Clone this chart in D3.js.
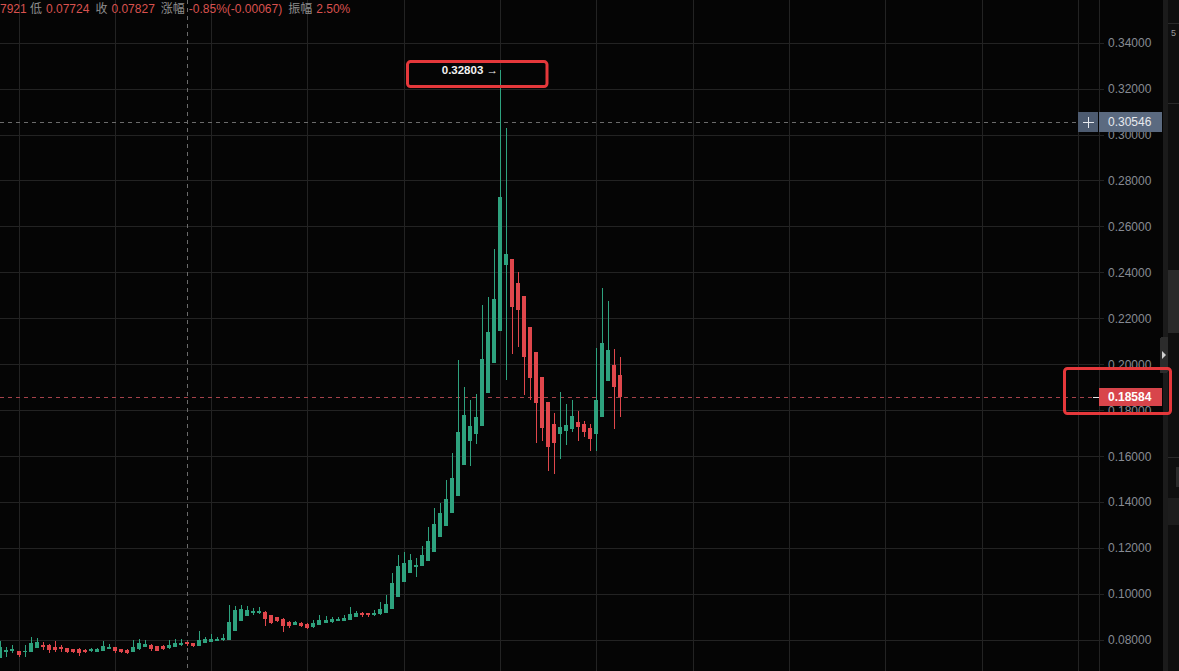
<!DOCTYPE html>
<html>
<head>
<meta charset="utf-8">
<script src="https://cdn.jsdelivr.net/npm/d3@7"></script>
<style>
  html, body { margin: 0; padding: 0; background: #050505; overflow: hidden; }
  svg { display: block; }
</style>
</head>
<body>
<svg id="main"></svg>
<script>
//--------data----------
// one candle per index
let opens = [
  0.0723, 0.0749, 0.0751, 0.0752, 0.0748, 0.0748, 0.0767, 0.0778, 0.0778, 0.0768,
  0.0768, 0.0764, 0.0760, 0.0760, 0.0757, 0.0752, 0.0749, 0.0753, 0.0761, 0.0768,
  0.0760, 0.0757, 0.0748, 0.0760, 0.0771, 0.0778, 0.0773, 0.0775, 0.0765, 0.0771,
  0.0780, 0.07894, 0.0786, 0.0774, 0.0788, 0.0791, 0.0797, 0.0799, 0.0800, 0.0841,
  0.0884, 0.0906, 0.0919, 0.0919, 0.0923, 0.0909, 0.0899, 0.0891, 0.0878, 0.0867,
  0.0875, 0.0870, 0.0855, 0.0867, 0.0875, 0.0878, 0.0884, 0.0884, 0.0887, 0.0901,
  0.0916, 0.0916, 0.0908, 0.0912, 0.0919, 0.0935, 0.0989, 0.1054, 0.1093, 0.1119,
  0.1123, 0.1145, 0.1184, 0.1247, 0.1298, 0.1354, 0.1428, 0.1562, 0.1668, 0.1697,
  0.1733, 0.1876, 0.2007, 0.2146, 0.2434, 0.2458, 0.2355, 0.2297, 0.2162, 0.2055,
  0.1946, 0.1836, 0.1740, 0.1698, 0.1711, 0.1718, 0.1749, 0.1740, 0.1723, 0.1697,
  0.1772, 0.1929, 0.1997, 0.1954
];
let highs = [
  0.0796, 0.0768, 0.0777, 0.0753, 0.0777, 0.0812, 0.0809, 0.0791, 0.0781, 0.0796,
  0.0777, 0.0765, 0.0762, 0.0764, 0.0762, 0.0764, 0.0765, 0.0796, 0.0784, 0.0768,
  0.0762, 0.0760, 0.0800, 0.0803, 0.0800, 0.0781, 0.0775, 0.0778, 0.0800, 0.0803,
  0.0806, 0.07921, 0.0788, 0.0838, 0.0814, 0.0826, 0.0814, 0.0826, 0.0952, 0.0948,
  0.0951, 0.0948, 0.0938, 0.0942, 0.0925, 0.0910, 0.0901, 0.0895, 0.0883, 0.0884,
  0.0878, 0.0873, 0.0887, 0.0909, 0.0905, 0.0901, 0.0899, 0.0908, 0.0942, 0.0925,
  0.0922, 0.0919, 0.0931, 0.0967, 0.0997, 0.1090, 0.1170, 0.1184, 0.1174, 0.1156,
  0.1209, 0.1293, 0.1373, 0.1395, 0.1496, 0.1615, 0.2019, 0.1903, 0.1845, 0.1871,
  0.2258, 0.2294, 0.2502, 0.32803, 0.3029, 0.2458, 0.2402, 0.2297, 0.2162, 0.2055,
  0.1946, 0.1836, 0.1789, 0.1881, 0.1827, 0.1846, 0.1795, 0.1755, 0.1740, 0.2072,
  0.2331, 0.2275, 0.2067, 0.2031
];
let lows = [
  0.0720, 0.0727, 0.0745, 0.0725, 0.0726, 0.0748, 0.0764, 0.0757, 0.0743, 0.0748,
  0.0749, 0.0745, 0.0743, 0.0732, 0.0742, 0.0748, 0.0747, 0.0752, 0.0760, 0.0742,
  0.0743, 0.0740, 0.0748, 0.0757, 0.0768, 0.0753, 0.0751, 0.0757, 0.0761, 0.0770,
  0.0773, 0.07724, 0.0768, 0.0774, 0.0786, 0.0791, 0.0796, 0.0797, 0.0800, 0.0841,
  0.0881, 0.0905, 0.0909, 0.0913, 0.0862, 0.0870, 0.0878, 0.0836, 0.0851, 0.0864,
  0.0855, 0.0848, 0.0854, 0.0865, 0.0873, 0.0873, 0.0881, 0.0883, 0.0887, 0.0899,
  0.0899, 0.0901, 0.0906, 0.0910, 0.0919, 0.0935, 0.0989, 0.1054, 0.1093, 0.1076,
  0.1123, 0.1145, 0.1184, 0.1247, 0.1298, 0.1354, 0.1428, 0.1562, 0.1557, 0.1653,
  0.1733, 0.1876, 0.2007, 0.2146, 0.1932, 0.2045, 0.2077, 0.1866, 0.1845, 0.1656,
  0.1668, 0.1536, 0.1521, 0.1587, 0.1648, 0.1705, 0.1668, 0.1682, 0.1623, 0.1623,
  0.1772, 0.1929, 0.1720, 0.1772
];
let closes = [
  0.0768, 0.0757, 0.0760, 0.0735, 0.0753, 0.0786, 0.0791, 0.0768, 0.0757, 0.0757,
  0.0760, 0.0748, 0.0748, 0.0742, 0.0747, 0.0760, 0.0760, 0.0774, 0.0768, 0.0751,
  0.0748, 0.0742, 0.0768, 0.0786, 0.0783, 0.0762, 0.0753, 0.0762, 0.0778, 0.0787,
  0.0788, 0.07827, 0.0774, 0.0800, 0.0806, 0.0804, 0.0806, 0.0809, 0.0878, 0.0931,
  0.0935, 0.0931, 0.0926, 0.0926, 0.0893, 0.0875, 0.0881, 0.0862, 0.0862, 0.0878,
  0.0861, 0.0851, 0.0875, 0.0887, 0.0887, 0.0893, 0.0893, 0.0896, 0.0913, 0.0919,
  0.0908, 0.0908, 0.0919, 0.0935, 0.0957, 0.1047, 0.1122, 0.1137, 0.1148, 0.1126,
  0.1170, 0.1231, 0.1305, 0.1354, 0.1414, 0.1505, 0.1707, 0.1779, 0.1731, 0.1771,
  0.2023, 0.2142, 0.2284, 0.2730, 0.2480, 0.2248, 0.2236, 0.2031, 0.1942, 0.1833,
  0.1724, 0.1641, 0.1659, 0.1727, 0.1737, 0.1776, 0.1727, 0.1705, 0.1675, 0.1845,
  0.2093, 0.2064, 0.1903, 0.18584
];
let yTicks = [0.08, 0.10, 0.12, 0.14, 0.16, 0.18, 0.20, 0.22, 0.24, 0.26, 0.28, 0.30, 0.32, 0.34];
let timeGrid = [3, 19, 35, 51, 67, 83, 99, 115, 131, 147, 163, 179];
let hoverIndex = 31;
let crossPrice = 0.30546;

// header (ohlc of hovered candle, left part cut off in the original)
let headerHigh = '7921';
let header = [
  ['低', '0.07724'],
  ['收', '0.07827'],
  ['涨幅', '-0.85%(-0.00067)'],
  ['振幅', '2.50%']
];

//--------code----------
const width = 1179, height = 671;
const plotRight = 1099;
const up = '#2ea27e', down = '#e0474c';
const font = "'Liberation Sans', Arial, 'Noto Sans CJK SC', sans-serif";

let candles = opens.map((o, i) => ({i: i, o: o, h: highs[i], l: lows[i], c: closes[i]}));

let svg = d3.select('#main')
  .attr('width', width)
  .attr('height', height)
  .style('background', '#050505');

let sx = d3.scaleLinear().domain([3, 179]).range([18.5, 1078]);
let sy = d3.scaleLinear().domain([0.08, 0.34]).range([640, 42.6]);

// grid
svg.append('g')
  .selectAll('line')
  .data(yTicks)
  .join('line')
  .attr('x1', 0).attr('x2', plotRight + 5)
  .attr('y1', d => Math.round(sy(d)) + 0.5)
  .attr('y2', d => Math.round(sy(d)) + 0.5)
  .attr('stroke', '#232323');
svg.append('g')
  .selectAll('line')
  .data(timeGrid)
  .join('line')
  .attr('x1', d => Math.round(sx(d)) + 0.5)
  .attr('x2', d => Math.round(sx(d)) + 0.5)
  .attr('y1', 0).attr('y2', height)
  .attr('stroke', '#232323');
svg.append('line')
  .attr('x1', plotRight + 0.5).attr('x2', plotRight + 0.5)
  .attr('y1', 0).attr('y2', height)
  .attr('stroke', '#232323');

// y axis
let ay = d3.axisRight(sy)
  .tickValues(yTicks)
  .tickFormat(d3.format('.5f'))
  .tickSize(0)
  .tickPadding(9);
let gy = svg.append('g')
  .attr('transform', `translate(${plotRight},0)`)
  .call(ay);
gy.select('.domain').remove();
gy.selectAll('text')
  .attr('fill', '#878b94')
  .style('font-family', font)
  .style('font-size', '12px');

// crosshair
let cx0 = Math.round(sx(hoverIndex)) + 0.5;
svg.append('line')
  .attr('x1', cx0).attr('x2', cx0)
  .attr('y1', 0).attr('y2', height)
  .attr('stroke', '#6b6b6b')
  .attr('stroke-dasharray', '4,4');
let cyc = Math.round(sy(crossPrice)) + 0.5;
svg.append('line')
  .attr('x1', 0).attr('x2', 1078)
  .attr('y1', cyc).attr('y2', cyc)
  .attr('stroke', '#6b6b6b')
  .attr('stroke-dasharray', '4,4');

// last price line
let last = closes[closes.length - 1];
let ly = Math.round(sy(last)) + 0.5;
svg.append('line')
  .attr('x1', 0).attr('x2', plotRight - 6)
  .attr('y1', ly).attr('y2', ly)
  .attr('stroke', '#a5424a')
  .attr('stroke-dasharray', '4,4');
svg.append('line')
  .attr('x1', plotRight - 6).attr('x2', plotRight)
  .attr('y1', ly).attr('y2', ly)
  .attr('stroke', '#e8e8e8');

// candles
let gc = svg.append('g').attr('shape-rendering', 'crispEdges');
gc.selectAll('.wick')
  .data(candles)
  .join('rect')
  .attr('class', 'wick')
  .attr('x', d => Math.round(sx(d.i)))
  .attr('width', 1)
  .attr('y', d => sy(d.h))
  .attr('height', d => Math.max(1, sy(d.l) - sy(d.h)))
  .attr('fill', d => d.c >= d.o ? up : down);
gc.selectAll('.body')
  .data(candles)
  .join('rect')
  .attr('class', 'body')
  .attr('x', d => Math.round(sx(d.i)) - 2)
  .attr('width', 4)
  .attr('y', d => sy(Math.max(d.o, d.c)))
  .attr('height', d => Math.max(1, Math.abs(sy(d.o) - sy(d.c))))
  .attr('fill', d => d.c >= d.o ? up : down);

// max marker
let maxC = candles.reduce((a, b) => b.h > a.h ? b : a);
let mx = Math.round(sx(maxC.i)), my = sy(maxC.h);
svg.append('text')
  .attr('x', mx - 2).attr('y', my)
  .attr('dy', '0.35em')
  .attr('text-anchor', 'end')
  .attr('fill', '#f2f2f2')
  .style('font-family', font)
  .style('font-size', '11.5px')
  .style('font-weight', 'bold')
  .text(d3.format('.5f')(maxC.h) + ' →');
svg.append('rect')
  .attr('x', mx - 92.5).attr('y', my - 8.5)
  .attr('width', 139.5).attr('height', 25)
  .attr('rx', 3)
  .attr('fill', 'none')
  .attr('stroke', '#e5383b')
  .attr('stroke-width', 3);

// crosshair price label
let cyr = Math.round(sy(crossPrice));
svg.append('rect')
  .attr('x', 1078).attr('y', cyr - 10)
  .attr('width', 20).attr('height', 20)
  .attr('fill', '#4d5b70');
svg.append('path')
  .attr('d', `M1083,${cyr + 0.5}H1094M1088.5,${cyr - 5}V${cyr + 6}`)
  .attr('stroke', '#e6e9ee')
  .attr('stroke-width', 1);
svg.append('rect')
  .attr('x', plotRight).attr('y', cyr - 10)
  .attr('width', 63).attr('height', 20)
  .attr('fill', '#5b6a80');
svg.append('text')
  .attr('x', plotRight + 9).attr('y', cyr)
  .attr('dy', '0.35em')
  .attr('fill', '#e6e9ee')
  .style('font-family', font)
  .style('font-size', '12px')
  .text(d3.format('.5f')(crossPrice));

// last price label
let lyr = Math.round(sy(last));
svg.append('rect')
  .attr('x', plotRight).attr('y', lyr - 9)
  .attr('width', 63).attr('height', 18)
  .attr('fill', '#d8454b');
svg.append('text')
  .attr('x', plotRight + 9).attr('y', lyr)
  .attr('dy', '0.35em')
  .attr('fill', '#ffffff')
  .style('font-family', font)
  .style('font-size', '12px')
  .style('font-weight', 'bold')
  .text(d3.format('.5f')(last));

// right side panel
let gp = svg.append('g').attr('shape-rendering', 'crispEdges');
gp.append('rect').attr('x', 1163).attr('y', 0).attr('width', 5).attr('height', height).attr('fill', '#1b1b1b');
gp.append('rect').attr('x', 1168).attr('y', 0).attr('width', 11).attr('height', height).attr('fill', '#0f0f0f');
gp.append('rect').attr('x', 1168).attr('y', 23).attr('width', 11).attr('height', 1).attr('fill', '#2a2a2a');
gp.append('rect').attr('x', 1168).attr('y', 103).attr('width', 11).attr('height', 1).attr('fill', '#2a2a2a');
gp.append('rect').attr('x', 1168).attr('y', 270).attr('width', 11).attr('height', 63).attr('fill', '#2a2a2a');
gp.append('rect').attr('x', 1168).attr('y', 457).attr('width', 11).attr('height', 1).attr('fill', '#2a2a2a');
gp.append('rect').attr('x', 1176).attr('y', 467).attr('width', 3).attr('height', 20).attr('fill', '#2a2a2a');
gp.append('rect').attr('x', 1168).attr('y', 498).attr('width', 11).attr('height', 27).attr('fill', '#1d1d1d');
gp.append('rect').attr('x', 1160).attr('y', 337).attr('width', 8).attr('height', 36).attr('rx', 2).attr('fill', '#2c2c2c');
svg.append('path').attr('d', 'M1162,351L1166,355L1162,359Z').attr('fill', '#cfcfcf');
svg.append('text')
  .attr('x', 1171).attr('y', 36)
  .attr('fill', '#9a9a9a')
  .style('font-family', font)
  .style('font-size', '9px')
  .text('5');

// red highlight around the last price label (drawn above the side panel)
svg.append('rect')
  .attr('x', 1064.5).attr('y', lyr - 28.5)
  .attr('width', 106).attr('height', 45)
  .attr('rx', 3)
  .attr('fill', 'none')
  .attr('stroke', '#e5383b')
  .attr('stroke-width', 3);

// header
let gh = svg.append('g')
  .style('font-family', font)
  .style('font-size', '12px');
gh.append('text')
  .attr('x', 0).attr('y', 13)
  .attr('fill', '#d9524f')
  .text(headerHigh);
let ht = gh.append('text').attr('x', 30).attr('y', 13);
header.forEach(([label, value], k) => {
  ht.append('tspan').attr('dx', k === 0 ? 0 : 6).attr('fill', '#8d8d8d').text(label);
  ht.append('tspan').attr('dx', 4).attr('fill', '#d9524f').text(value);
});
</script>
</body>
</html>
